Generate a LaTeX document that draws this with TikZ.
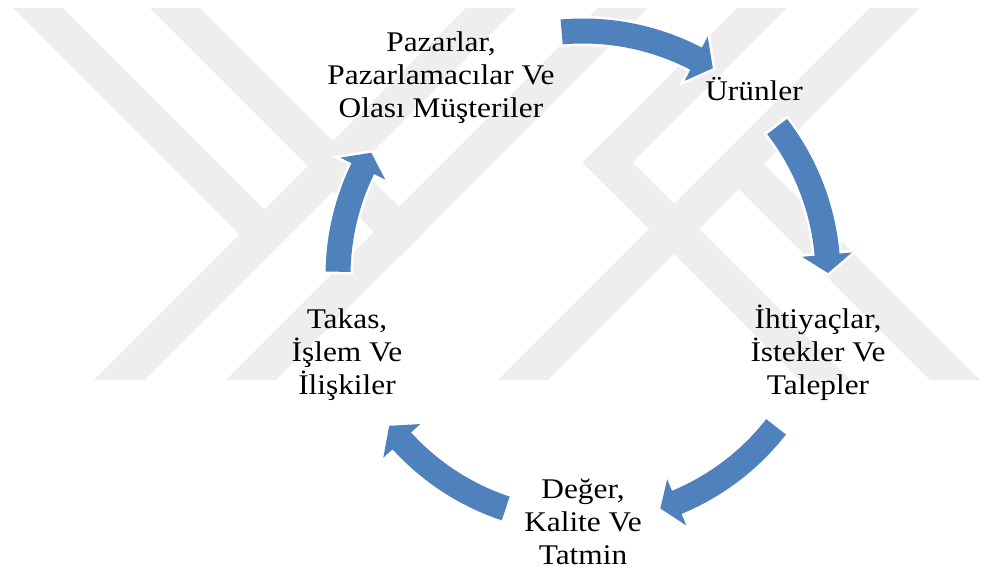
\documentclass[tikz,border=0pt]{standalone}
\usepackage{fontspec}
\setmainfont{Liberation Serif}[FakeStretch=1.1]
\definecolor{arrowblue}{HTML}{4F81BD}
\definecolor{markgray}{gray}{0.935}

% curved block arrow around the current origin:
% #1 tail angle, #2 angle of the head base, #3 tip angle
\newcommand{\blockarc}[3]{%
  \fill[cyclearrow]
    plot[domain=#1:#2, samples=40] (\x:257.5)
    -- (#2:270) -- (#3:245) -- (#2:220)
    -- plot[domain=#2:#1, samples=40] (\x:232.5) -- cycle;}

\begin{document}
\begin{tikzpicture}[x=1pt, y=-1pt,
  band/.style={fill=markgray, draw=none},
  cyclearrow/.style={fill=arrowblue, draw=none,
    preaction={draw=white, line width=5pt, line join=miter}},
  lbl/.style={font=\fontsize{28.5}{33}\selectfont, align=center,
    anchor=base, inner sep=0pt}]

\useasboundingbox (0,0) rectangle (984,573);
\fill[white] (0,0) rectangle (984,573);

% background emblem in light grey
\fill[band] (13,8) -- (63,8) -- (289.5,234.5) -- (264.5,259.5) -- cycle;
\fill[band] (466,8) -- (516,8) -- (144,380) -- (94,380) -- cycle;
\fill[band] (150,8) -- (200,8) -- (424,232) -- (399,257) -- cycle;
\fill[band] (598,8) -- (648,8) -- (276,380) -- (226,380) -- cycle;
\fill[band] (737,8) -- (787,8) -- (607.5,187.5) -- (582.5,162.5) -- cycle;
\fill[band] (582.5,162.5) -- (607.5,137.5) -- (850,380) -- (800,380) -- cycle;
\fill[band] (870,8) -- (920,8) -- (548,380) -- (498,380) -- cycle;
\fill[band] (714,164) -- (764,164) -- (980,380) -- (930,380) -- cycle;

% labels (anchored at the baseline of their last line)
\node[lbl] (pazar) at (441,117) {Pazarlar,\\Pazarlamacılar Ve\\Olası Müşteriler};
\node[lbl] (urun) at (754,100) {Ürünler};
\node[lbl] (ihtiyac) at (818,394) {İhtiyaçlar,\\İstekler Ve\\Talepler};
\node[lbl] (deger) at (583,564) {Değer,\\Kalite Ve\\Tatmin};
\node[lbl] (takas) at (347,394) {Takas,\\İşlem Ve\\İlişkiler};

% cycle arrows
\begin{scope}[shift={(583,276)}]
  \blockarc{-95}{-62.5}{-58}
  \blockarc{-37.6}{-5}{-0.7}
  \blockarc{38}{67.5}{71.6}
  \blockarc{108.4}{137.7}{142.3}
  \blockarc{181}{206}{210.2}
\end{scope}
\end{tikzpicture}
\end{document}
